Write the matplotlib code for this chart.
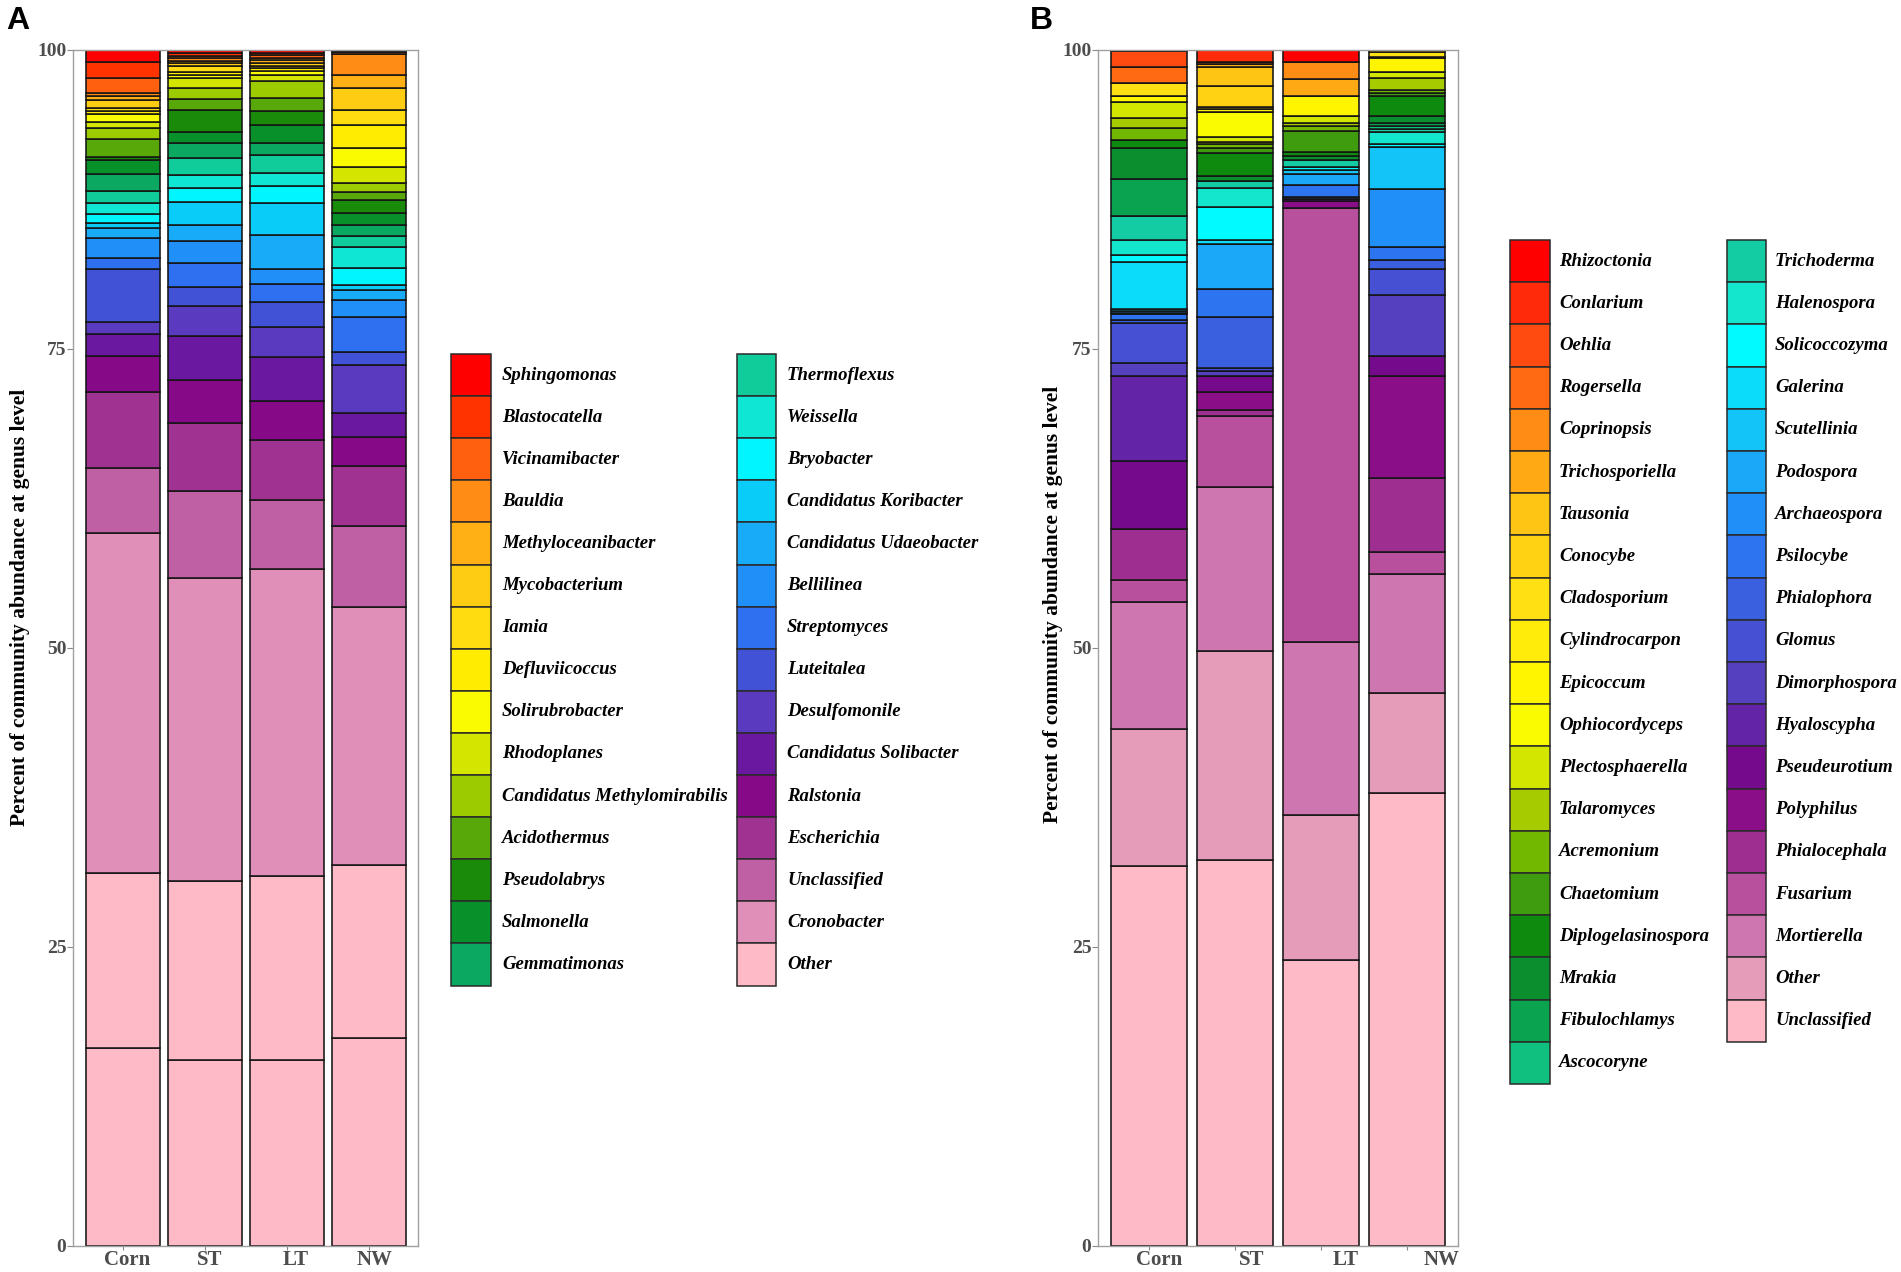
import matplotlib
matplotlib.use("Agg")
import matplotlib.pyplot as plt
from matplotlib.patches import Rectangle
import matplotlib.transforms as mtransforms
import numpy as np

plt.rcParams['font.family'] = ['Liberation Serif', 'DejaVu Serif']

W, H = 1901, 1272
samples = ['Corn', 'ST', 'LT', 'NW']

# ---------------- Panel A (bacteria) : legend order, top of stack first ----------------
genera_a = ['Sphingomonas', 'Blastocatella', 'Vicinamibacter', 'Bauldia', 'Methyloceanibacter',
            'Mycobacterium', 'Iamia', 'Defluviicoccus', 'Solirubrobacter', 'Rhodoplanes',
            'Candidatus Methylomirabilis', 'Acidothermus', 'Pseudolabrys', 'Salmonella', 'Gemmatimonas',
            'Thermoflexus', 'Weissella', 'Bryobacter', 'Candidatus Koribacter', 'Candidatus Udaeobacter',
            'Bellilinea', 'Streptomyces', 'Luteitalea', 'Desulfomonile', 'Candidatus Solibacter',
            'Ralstonia', 'Escherichia', 'Unclassified', 'Cronobacter', 'Other']
colors_a = ['#FF0000', '#FF3300', '#FF6010', '#FF8C14', '#FFB014',
            '#FFCC14', '#FFDC10', '#FFEC00', '#FAFA00', '#D4E600',
            '#9CCC00', '#58A80A', '#1A8A0A', '#08902A', '#0AA860',
            '#10CC9A', '#10E6D4', '#00F5FF', '#0ACCF8', '#18ACF8',
            '#2090F8', '#2E70F0', '#4252D6', '#5A3ABE', '#6A18A0',
            '#860A88', '#A03292', '#C060A4', '#E090B8', '#FFBAC8']
corn_a = [1.00, 1.37, 1.25, 0.22, 0.33, 0.70, 0.20, 0.28, 0.64, 0.56,
          0.89, 1.48, 0.28, 1.20, 1.39, 1.03, 0.89, 0.78, 0.42, 0.84,
          1.67, 0.89, 4.46, 0.98, 1.84, 3.04, 6.37, 5.40, 28.40, 14.70]
st_a = [0.25, 0.20, 0.20, 0.22, 0.22, 0.20, 0.50, 0.28, 0.28, 0.85,
        0.92, 0.89, 1.81, 0.92, 1.31, 1.39, 1.12, 1.17, 1.90, 1.31,
        1.84, 2.06, 1.53, 2.51, 3.71, 3.60, 5.70, 7.30, 25.30, 15.00]
lt_a = [0.28, 0.14, 0.28, 0.14, 0.28, 0.20, 0.22, 0.20, 0.35, 0.50,
        1.45, 1.03, 1.20, 1.48, 1.03, 1.53, 1.03, 1.48, 2.65, 2.87,
        1.25, 1.45, 2.15, 2.45, 3.71, 3.25, 5.00, 5.80, 25.70, 15.40]
nw_a = [0.11, 0.08, 0.14, 1.76, 1.12, 1.81, 1.25, 1.95, 1.53, 1.39,
        0.70, 0.70, 1.06, 1.03, 0.92, 0.89, 1.81, 1.39, 0.42, 0.84,
        1.39, 2.98, 1.06, 4.04, 2.03, 2.40, 5.00, 6.80, 21.60, 14.40]
# second (lowest) "Other" block drawn at the bottom of each bar
other_low_a = [16.50, 15.50, 15.50, 17.40]

# ---------------- Panel B (fungi) ----------------
genera_b = ['Rhizoctonia', 'Conlarium', 'Oehlia', 'Rogersella', 'Coprinopsis', 'Trichosporiella',
            'Tausonia', 'Conocybe', 'Cladosporium', 'Cylindrocarpon', 'Epicoccum', 'Ophiocordyceps',
            'Plectosphaerella', 'Talaromyces', 'Acremonium', 'Chaetomium', 'Diplogelasinospora',
            'Mrakia', 'Fibulochlamys', 'Ascocoryne',
            'Trichoderma', 'Halenospora', 'Solicoccozyma', 'Galerina', 'Scutellinia', 'Podospora',
            'Archaeospora', 'Psilocybe', 'Phialophora', 'Glomus', 'Dimorphospora', 'Hyaloscypha',
            'Pseudeurotium', 'Polyphilus', 'Phialocephala', 'Fusarium', 'Mortierella', 'Other',
            'Unclassified']
colors_b = ['#FF0000', '#FF2A0A', '#FF4A10', '#FF6A12', '#FF8C14', '#FFAA14',
            '#FFC514', '#FFD314', '#FFE012', '#FFEC0A', '#FFF500', '#FAFA00',
            '#D2E600', '#A6CC00', '#72B800', '#3E9C0E', '#0E8A0E',
            '#0A8E2E', '#0AA350', '#0FC07E',
            '#14CCA4', '#14E6CE', '#00FAFF', '#0ADCFA', '#12C4F8', '#1CA8F8',
            '#2090F8', '#2C74F0', '#3A60E0', '#4650D2', '#5540C0', '#6424A8',
            '#760A8C', '#8A0E88', '#9E2E90', '#B8509E', '#CE76B0', '#E49CB8',
            '#FFBAC8']
corn_b = [0.08, 0.00, 1.31, 1.39, 0.00, 0.00, 0.00, 0.00, 1.06, 0.00, 0.56, 0.00,
          1.31, 0.84, 0.98, 0.00, 0.70, 2.59, 3.07, 0.00,
          2.01, 1.25, 0.56, 3.99, 0.15, 0.13, 0.10, 0.50, 0.22, 3.35, 1.12, 7.11,
          5.66, 0.00, 4.29, 1.87, 10.59, 11.44, 31.78]
st_b = [0.00, 1.03, 0.00, 0.17, 0.00, 0.20, 1.59, 1.76, 0.20, 0.22, 0.00, 2.09,
        0.42, 0.22, 0.33, 0.42, 1.90, 0.39, 0.00, 0.00,
        0.64, 1.53, 2.79, 0.33, 0.00, 3.79, 0.00, 2.34, 4.27, 0.20, 0.44, 0.00,
        1.31, 1.53, 0.50, 5.96, 13.66, 17.54, 32.23]
lt_b = [1.03, 0.00, 0.00, 0.00, 1.42, 1.37, 0.00, 0.00, 0.00, 0.00, 1.67, 0.00,
        0.64, 0.20, 0.45, 1.73, 0.33, 0.36, 0.00, 0.00,
        0.56, 0.00, 0.28, 0.00, 0.33, 0.92, 0.00, 0.98, 0.00, 0.00, 0.17, 0.00,
        0.17, 0.64, 0.00, 36.23, 14.50, 12.13, 23.89]
nw_b = [0.00, 0.00, 0.00, 0.00, 0.00, 0.00, 0.00, 0.14, 0.42, 0.14, 1.17, 0.00,
        0.45, 1.03, 0.28, 0.20, 1.67, 0.64, 0.22, 0.28,
        0.25, 1.00, 0.20, 0.00, 3.54, 0.00, 4.82, 1.12, 0.78, 2.15, 5.10, 0.00,
        1.67, 8.56, 6.13, 1.87, 9.98, 8.37, 37.83]

yticks = [0, 25, 50, 75, 100]
ylabel = 'Percent of community abundance at genus level'

fig = plt.figure(figsize=(W / 100, H / 100), dpi=100)


def px_rect(x0, y0, x1, y1):
    return [x0 / W, 1 - y1 / H, (x1 - x0) / W, (y1 - y0) / H]


def draw_panel(rect, xlim, per_sample, colors, bar_w, base=None, label_off=None):
    ax = fig.add_axes(rect)
    x = np.arange(len(samples))
    data = np.array(per_sample, dtype=float).T  # genera x samples
    bottom = np.zeros(len(samples))
    if base is not None:
        ax.bar(x, base, bottom=bottom, width=bar_w, color=colors[-1],
               edgecolor='#151515', linewidth=1.15)
        bottom = bottom + np.array(base)
    for i in range(data.shape[0] - 1, -1, -1):
        vals = data[i]
        ax.bar(x, vals, bottom=bottom, width=bar_w, color=colors[i],
               edgecolor='#151515', linewidth=1.15)
        bottom = bottom + vals
    ax.set_xlim(*xlim)
    ax.set_ylim(0, 100)
    ax.set_yticks(yticks)
    ax.set_yticklabels([str(v) for v in yticks], fontsize=14, fontweight='bold', color='#4d4d4d')
    ax.tick_params(axis='y', length=4, width=0.8, color='#888888', pad=1)
    ax.set_xticks(x)
    ax.set_xticklabels([])
    ax.tick_params(axis='x', length=3, width=0.8, color='#888888')
    for s in ax.spines.values():
        s.set_color('#a0a0a0')
        s.set_linewidth(1.0)
    trans = mtransforms.blended_transform_factory(ax.transData, ax.transAxes)
    offs = label_off if label_off is not None else [0.0] * len(samples)
    for xi, name, o in zip(x, samples, offs):
        ax.text(xi + o, -0.004, name, transform=trans, ha='center', va='top',
                fontsize=15, fontweight='bold', color='#4d4d4d')
    return ax


# Panel A
axA = draw_panel(px_rect(73.3, 50, 418, 1245.7), (-0.60, 3.59),
                 [corn_a, st_a, lt_a, nw_a], colors_a, 0.9, base=other_low_a,
                 label_off=[0.06, 0.06, 0.10, 0.06])
# Panel B
axB = draw_panel(px_rect(1098.3, 50, 1458.3, 1245.7), (-0.59, 3.60),
                 [corn_b, st_b, lt_b, nw_b], colors_b, 0.89,
                 label_off=[0.12, 0.20, 0.29, 0.40])

fig.text(20 / W, 1 - 607 / H, ylabel, rotation=90, ha='center', va='center',
         fontsize=15.5, fontweight='bold')
fig.text(1053 / W, 1 - 604 / H, ylabel, rotation=90, ha='center', va='center',
         fontsize=15.5, fontweight='bold')

fig.text(6 / W, 1 - 6 / H, 'A', ha='left', va='top', fontsize=23, fontweight='bold',
         family=['Liberation Sans', 'DejaVu Sans'])
fig.text(1030 / W, 1 - 6 / H, 'B', ha='left', va='top', fontsize=23, fontweight='bold',
         family=['Liberation Sans', 'DejaVu Sans'])


def draw_legend(names, colors, cols, top, row_h, n_rows):
    for i, (name, c) in enumerate(zip(names, colors)):
        col = i // n_rows
        row = i % n_rows
        sx, sw, tx = cols[col]
        y0 = top + row * row_h
        fig.add_artist(Rectangle((sx / W, 1 - (y0 + row_h) / H), sw / W, row_h / H,
                                 transform=fig.transFigure, facecolor=c,
                                 edgecolor='#2a2a2a', linewidth=1.1))
        fig.text(tx / W, 1 - (y0 + row_h / 2) / H, name, ha='left', va='center',
                 fontsize=13.5, fontweight='bold', fontstyle='italic')


draw_legend(genera_a, colors_a, [(451, 40, 502), (737, 39, 787)], 354, 42.1, 15)
draw_legend(genera_b, colors_b, [(1510, 39.5, 1559), (1726.5, 39, 1775)], 240, 42.2, 20)

fig.savefig('out.png', dpi=100)
